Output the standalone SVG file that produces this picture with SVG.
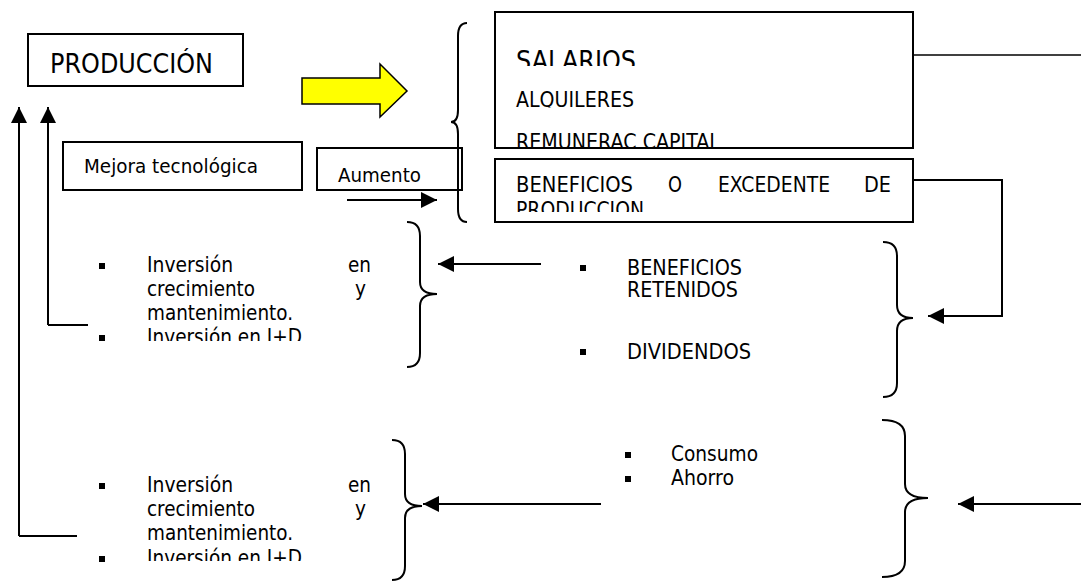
<svg xmlns="http://www.w3.org/2000/svg" width="1081" height="582" viewBox="0 0 1081 582">
<style>
text{font-family:"DejaVu Sans","Liberation Sans",sans-serif;fill:#000}
.box{fill:#fff;stroke:#000;stroke-width:2}
.br{fill:none;stroke:#000;stroke-width:2}
.ln{fill:none;stroke:#000;stroke-width:2}
.lnt{fill:none;stroke:#000;stroke-width:1.5}
.t20{font-size:20px}
.t21{font-size:21px}
.bul{fill:#000}
</style>
<defs>
<marker id="ah" markerUnits="userSpaceOnUse" markerWidth="18" markerHeight="16" refX="16" refY="8" orient="auto">
<path d="M0,0 L16,8 L0,16 Z" fill="#000"/>
</marker>
<clipPath id="cSal"><rect x="496" y="13" width="416" height="53"/></clipPath>
<clipPath id="cAlq"><rect x="496" y="80" width="416" height="27.5"/></clipPath>
<clipPath id="cRem"><rect x="496" y="120" width="416" height="27"/></clipPath>
<clipPath id="cProd"><rect x="496" y="195" width="416" height="17"/></clipPath>
<clipPath id="cInv1"><rect x="60" y="325" width="330" height="16"/></clipPath>
<clipPath id="cInv2"><rect x="60" y="545" width="330" height="16"/></clipPath>
</defs>

<g id="produccion">
<rect class="box" x="28" y="34" width="215" height="52"/>
<text x="50" y="73" font-size="27" textLength="163" lengthAdjust="spacingAndGlyphs">PRODUCCIÓN</text>
</g>

<g id="flecha-amarilla">
<polygon points="302,78 380,78 380,64 407,91 380,117 380,104 302,104" fill="#ffff00" stroke="#000" stroke-width="1.5"/>
</g>

<g id="mejora">
<rect class="box" x="63" y="142" width="239" height="48"/>
<text class="t20" x="84" y="173" textLength="174" lengthAdjust="spacingAndGlyphs">Mejora tecnológica</text>
</g>

<g id="aumento">
<rect class="box" x="317" y="148" width="145" height="42"/>
<text class="t20" x="338" y="182" textLength="83" lengthAdjust="spacingAndGlyphs">Aumento</text>
</g>

<g id="llave-rentas">
<path class="br" d="M467,23 Q458,23 458,36 L458,110 Q458,122 451,122 Q458,122 458,134 L458,209 Q458,222 467,222"/>
</g>

<g id="rentas">
<rect class="box" x="495" y="12" width="418" height="136"/>
<text x="516" y="70" font-size="27" textLength="120" lengthAdjust="spacingAndGlyphs" clip-path="url(#cSal)">SALARIOS</text>
<text class="t21" x="516" y="107" textLength="118" lengthAdjust="spacingAndGlyphs" clip-path="url(#cAlq)">ALQUILERES</text>
<text class="t21" x="516" y="149" textLength="204" lengthAdjust="spacingAndGlyphs" clip-path="url(#cRem)">REMUNERAC CAPITAL</text>
</g>

<g id="beneficios">
<rect class="box" x="495" y="159" width="418" height="63"/>
<text class="t21" x="516" y="192" textLength="117" lengthAdjust="spacingAndGlyphs">BENEFICIOS</text>
<text class="t21" x="668" y="192" textLength="14" lengthAdjust="spacingAndGlyphs">O</text>
<text class="t21" x="718" y="192" textLength="112" lengthAdjust="spacingAndGlyphs">EXCEDENTE</text>
<text class="t21" x="891" y="192" text-anchor="end" textLength="27" lengthAdjust="spacingAndGlyphs">DE</text>
<text class="t21" x="516" y="217" textLength="128" lengthAdjust="spacingAndGlyphs" clip-path="url(#cProd)">PRODUCCION</text>
</g>

<g id="inversion-1">
<rect class="bul" x="99" y="263" width="6" height="6"/>
<text class="t21" x="147" y="272" textLength="86" lengthAdjust="spacingAndGlyphs">Inversión</text>
<text class="t21" x="371" y="272" text-anchor="end" textLength="23" lengthAdjust="spacingAndGlyphs">en</text>
<text class="t21" x="147" y="296" textLength="108" lengthAdjust="spacingAndGlyphs">crecimiento</text>
<text class="t21" x="366" y="296" text-anchor="end" textLength="11" lengthAdjust="spacingAndGlyphs">y</text>
<text class="t21" x="147" y="320" textLength="146" lengthAdjust="spacingAndGlyphs">mantenimiento.</text>
<rect class="bul" x="99" y="335" width="6" height="6"/>
<text class="t21" x="147" y="344" textLength="155" lengthAdjust="spacingAndGlyphs" clip-path="url(#cInv1)">Inversión en I+D</text>
</g>

<g id="llave-inversion-1">
<path class="br" d="M407,222 Q420,222 420,236 L420,282 Q420,294 437,294 Q420,294 420,306 L420,353 Q420,367 407,367"/>
</g>

<g id="reparto-beneficios">
<rect class="bul" x="580" y="265" width="6" height="6"/>
<text class="t21" x="627" y="275" textLength="115" lengthAdjust="spacingAndGlyphs">BENEFICIOS</text>
<text class="t21" x="627" y="297" textLength="111" lengthAdjust="spacingAndGlyphs">RETENIDOS</text>
<rect class="bul" x="580" y="349" width="6" height="6"/>
<text class="t21" x="627" y="359" textLength="124" lengthAdjust="spacingAndGlyphs">DIVIDENDOS</text>
</g>

<g id="llave-beneficios">
<path class="br" d="M883,242 Q897,242 897,256 L897,305 Q897,318 913,318 Q897,318 897,331 L897,383 Q897,397 883,397"/>
</g>

<g id="inversion-2">
<rect class="bul" x="99" y="483" width="6" height="6"/>
<text class="t21" x="147" y="492" textLength="86" lengthAdjust="spacingAndGlyphs">Inversión</text>
<text class="t21" x="371" y="492" text-anchor="end" textLength="23" lengthAdjust="spacingAndGlyphs">en</text>
<text class="t21" x="147" y="516" textLength="108" lengthAdjust="spacingAndGlyphs">crecimiento</text>
<text class="t21" x="366" y="516" text-anchor="end" textLength="11" lengthAdjust="spacingAndGlyphs">y</text>
<text class="t21" x="147" y="540" textLength="146" lengthAdjust="spacingAndGlyphs">mantenimiento.</text>
<rect class="bul" x="99" y="556" width="6" height="6"/>
<text class="t21" x="147" y="565" textLength="155" lengthAdjust="spacingAndGlyphs" clip-path="url(#cInv2)">Inversión en I+D</text>
</g>

<g id="llave-inversion-2">
<path class="br" d="M392,440 Q405,440 405,454 L405,494 Q405,506 422,506 Q405,506 405,518 L405,566 Q405,580 392,580"/>
</g>

<g id="consumo-ahorro">
<rect class="bul" x="625" y="452" width="6" height="6"/>
<text class="t21" x="671" y="461" textLength="87" lengthAdjust="spacingAndGlyphs">Consumo</text>
<rect class="bul" x="625" y="476" width="6" height="6"/>
<text class="t21" x="671" y="485" textLength="63" lengthAdjust="spacingAndGlyphs">Ahorro</text>
</g>

<g id="llave-salarios">
<path class="br" d="M882,420 Q905,420 905,436 L905,484 Q905,498 928,498 Q905,498 905,512 L905,561 Q905,577 882,577"/>
</g>

<g id="conectores">
<polyline class="ln" points="19,536 19,107" marker-end="url(#ah)"/>
<line class="ln" x1="19" y1="536" x2="77" y2="536"/>
<polyline class="ln" points="48,325 48,107" marker-end="url(#ah)"/>
<line class="ln" x1="48" y1="325" x2="88" y2="325"/>
<line class="ln" x1="347" y1="200" x2="437" y2="200" marker-end="url(#ah)"/>
<line class="lnt" x1="913" y1="55" x2="1081" y2="55"/>
<polyline class="ln" points="913,180 1002,180 1002,316 928,316" marker-end="url(#ah)"/>
<line class="ln" x1="541" y1="264" x2="438" y2="264" marker-end="url(#ah)"/>
<line class="ln" x1="601" y1="504" x2="423" y2="504" marker-end="url(#ah)"/>
<line class="ln" x1="1081" y1="504" x2="958" y2="504" marker-end="url(#ah)"/>
</g>
</svg>
